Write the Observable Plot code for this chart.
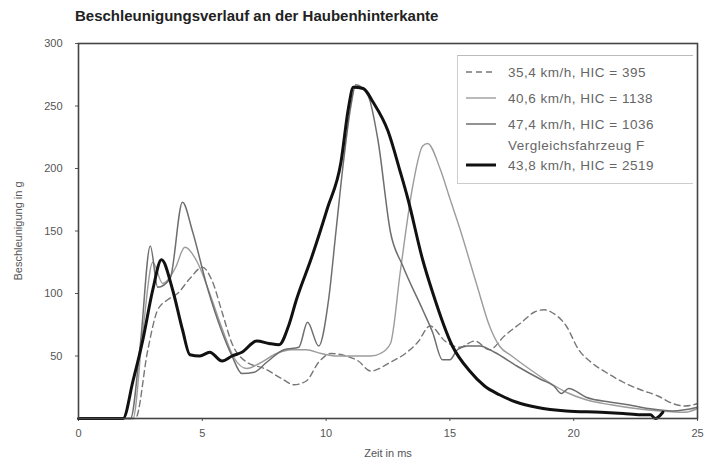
<!DOCTYPE html>
<html>
<head>
<meta charset="utf-8">
<script src="https://cdn.jsdelivr.net/npm/d3@7"></script>
<script src="https://cdn.jsdelivr.net/npm/@observablehq/plot@0.6"></script>
<style>
  html, body { margin: 0; padding: 0; background: #fff; }
  #wrap { position: relative; width: 711px; height: 463px; font-family: "Liberation Sans", Arial, sans-serif; }
  #title { position: absolute; left: 75px; top: 7px; font-size: 15px; font-weight: bold; color: #222; white-space: nowrap; }
  #chart { position: absolute; left: 0; top: 35px; }
  #legend { position: absolute; left: 457px; top: 55px; width: 236px; height: 129px; background: #fff;
            border-top: 1px solid #bbb; border-left: 1px solid #ccc; border-bottom: 1px solid #ccc; box-sizing: border-box; }
  .row { position: absolute; left: 8px; height: 16px; display: flex; align-items: center; font-size: 13.5px; letter-spacing: 0.5px; color: #666; white-space: nowrap; }
  .row svg { margin-right: 12px; }
</style>
</head>
<body>
<div id="wrap">
  <div id="title">Beschleunigungsverlauf an der Haubenhinterkante</div>
  <div id="chart"></div>
  <div id="legend"></div>
</div>
<script>
// Series labels
const labels = [
  "35,4 km/h, HIC = 395",
  "40,6 km/h, HIC = 1138",
  "47,4 km/h, HIC = 1036",
  "Vergleichsfahrzeug F\n43,8 km/h, HIC = 2519"
];

// Time (ms) and acceleration (g) per series
const t354 = [0, 2.3, 2.8, 3.2, 3.6, 4.0, 4.5, 5.0, 5.4, 5.8, 6.2, 6.8, 7.5, 8.2, 8.7, 9.2, 9.7, 10.2, 10.8, 11.3, 11.8, 12.6, 13.2, 13.7, 14.2, 14.8, 15.4, 16.0, 16.6, 17.2, 17.9, 18.4, 18.8, 19.1, 19.7, 20.2, 20.7, 21.3, 22.0, 22.7, 23.4, 24.0, 24.5, 25.0];
const g354 = [0, 0, 55, 87, 95, 100, 112, 121, 110, 85, 60, 45, 40, 32, 27, 30, 45, 52, 50, 46, 38, 45, 52, 61, 74, 62, 57, 62, 55, 66, 77, 85, 87, 85, 74, 55, 45, 37, 29, 23, 18, 12, 10, 12];

const t406 = [0, 2.2, 2.6, 3.0, 3.4, 3.9, 4.3, 4.8, 5.3, 5.8, 6.3, 6.8, 7.3, 8.0, 8.6, 9.2, 9.8, 10.4, 11.0, 11.8, 12.2, 12.6, 13.0, 13.5, 13.9, 14.1, 14.6, 15.0, 15.4, 16.1, 16.6, 17.0, 17.5, 18.4, 19.0, 19.7, 20.5, 21.5, 22.5, 23.5, 24.5, 25.0];
const g406 = [0, 0, 70, 125, 108, 120, 137, 125, 100, 72, 48, 40, 44, 52, 55, 55, 52, 50, 50, 50, 52, 60, 118, 186, 218, 220, 200, 176, 152, 106, 74, 58, 50, 37, 29, 21, 15, 11, 8, 6, 5, 8];

const t474 = [0, 2.1, 2.5, 2.9, 3.2, 3.7, 4.2, 4.6, 5.2, 5.8, 6.2, 6.6, 7.1, 7.6, 8.3, 8.9, 9.25, 9.7, 10.1, 10.4, 10.7, 11.0, 11.2, 11.7, 12.1, 12.6, 13.1, 13.9, 14.3, 14.7, 15.0, 15.3, 15.7, 16.2, 16.8, 17.7, 18.7, 19.2, 19.5, 19.8, 20.5, 21.5, 22.2, 23.0, 24.0, 25.0];
const g474 = [0, 0, 60, 138, 105, 112, 173, 150, 105, 69, 50, 36, 37, 45, 55, 57, 77, 58, 95, 150, 205, 250, 267, 258, 222, 149, 122, 87, 69, 47, 47, 55, 58, 58, 53, 42, 31, 26, 20, 24, 17, 13, 11, 8, 6, 9];

const tRef = [0, 1.8, 2.2, 2.6, 3.0, 3.35, 3.8, 4.2, 4.5, 4.9, 5.3, 5.8, 6.2, 6.6, 7.2, 7.7, 8.1, 8.5, 8.8, 9.4, 10.05, 10.6, 10.9, 11.1, 11.5, 11.9, 12.5, 13.0, 13.3, 13.9, 14.3, 15.1, 15.8, 16.4, 17.0, 17.7, 18.5, 19.7, 21.1, 22.0, 22.7, 23.1, 23.3, 23.6];
const gRef = [0, 0, 30, 63, 103, 127, 103, 71, 51, 50, 53, 46, 50, 53, 62, 60, 59, 75, 95, 128, 168, 205, 248, 265, 264, 253, 230, 197, 176, 127, 101, 58, 38, 26, 19, 13, 9, 6, 5, 4, 3, 3, 0, 5];

// Axis ticks
const xTicks = [0, 5, 10, 15, 20, 25];
const yTicks = [50, 100, 150, 200, 250, 300];

const pts = (ts, gs) => ts.map((t, i) => ({t, g: gs[i]}));

const styles = [
  {stroke: "#777", strokeWidth: 1.4, strokeDasharray: "6,4"},
  {stroke: "#9c9c9c", strokeWidth: 1.4},
  {stroke: "#6e6e6e", strokeWidth: 1.5},
  {stroke: "#111", strokeWidth: 3}
];
const series = [pts(t354, g354), pts(t406, g406), pts(t474, g474), pts(tRef, gRef)];

const chart = Plot.plot({
  width: 711,
  height: 428,
  marginLeft: 78,
  marginRight: 14,
  marginTop: 8,
  marginBottom: 45,
  style: {fontFamily: "Liberation Sans, Arial, sans-serif", fontSize: "11px", color: "#555", background: "#fff"},
  x: {domain: [0, 25]},
  y: {domain: [0, 300]},
  marks: [
    Plot.axisX({ticks: xTicks, tickSize: 3, tickPadding: 8, label: "Zeit in ms", labelAnchor: "center", labelArrow: "none", labelOffset: 38, fontSize: 11}),
    Plot.axisY({ticks: yTicks, tickSize: 3, tickPadding: 13, label: "Beschleunigung in g", labelAnchor: "center", labelArrow: "none", labelOffset: 64, fontSize: 11}),
    ...series.map((d, i) => Plot.line(d, {x: "t", y: "g", curve: "monotone-x", strokeLinejoin: "round", ...styles[i]})),
    Plot.frame({stroke: "#444", strokeWidth: 1.6})
  ]
});
document.getElementById("chart").appendChild(chart);

// Legend box
const legend = document.getElementById("legend");
const rowTops = [8, 34, 60, 101];
labels.forEach((lab, i) => {
  const row = document.createElement("div");
  row.className = "row";
  row.style.top = rowTops[i] + "px";
  const s = styles[i];
  row.innerHTML = `<svg width="30" height="6"><line x1="0" y1="3" x2="30" y2="3" stroke="${s.stroke}" stroke-width="${s.strokeWidth}" ${s.strokeDasharray ? `stroke-dasharray="${s.strokeDasharray}"` : ""}/></svg>`;
  const txt = document.createElement("span");
  if (lab.includes("\n")) {
    const [a, b] = lab.split("\n");
    txt.innerHTML = `<span style="position:absolute;left:42px;top:-19px">${a}</span>${b}`;
  } else {
    txt.textContent = lab;
  }
  row.appendChild(txt);
  legend.appendChild(row);
});
</script>
</body>
</html>
